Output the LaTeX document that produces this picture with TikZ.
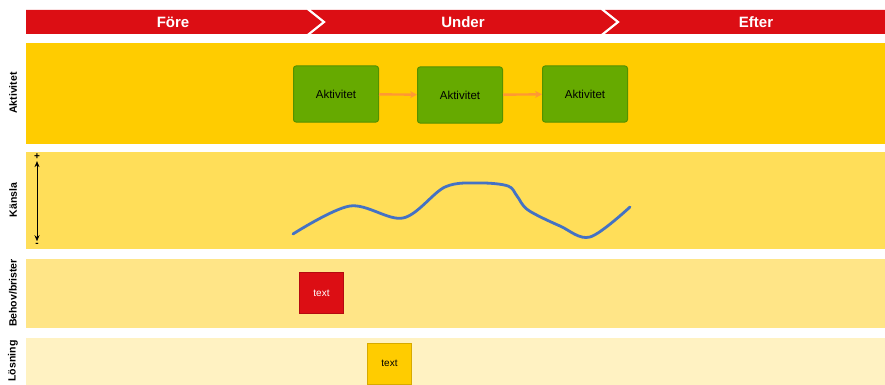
\documentclass[tikz,border=0pt]{standalone}
\usepackage{fontspec}
\setmainfont{Liberation Sans}
\usetikzlibrary{arrows.meta}

\definecolor{rod}{RGB}{220,14,20}
\definecolor{rodmork}{RGB}{180,10,15}
\definecolor{gul}{RGB}{255,204,0}
\definecolor{gulmork}{RGB}{215,170,0}
\definecolor{gul2}{RGB}{255,222,89}
\definecolor{gul3}{RGB}{255,229,135}
\definecolor{gul4}{RGB}{255,242,194}
\definecolor{gron}{RGB}{102,170,0}
\definecolor{gronmork}{RGB}{84,145,0}
\definecolor{orange}{RGB}{255,153,51}
\definecolor{bla}{RGB}{68,114,196}

\begin{document}
\begin{tikzpicture}[x=1pt,y=-1pt,
    fas/.style={text=white, font=\fontsize{15}{18}\selectfont\bfseries},
    rad/.style={rotate=90, font=\fontsize{10.5}{12}\selectfont\bfseries},
    aktbox/.style={draw=gronmork, fill=gron, line width=1pt, rounded corners=2.5pt,
        minimum width=85pt, minimum height=56pt, inner sep=0pt,
        font=\fontsize{11.5}{13}\selectfont},
    pil/.style={draw=orange, line width=2.4pt, -{Stealth[length=7pt,width=7pt]}},
    lapp/.style={line width=0.8pt, minimum width=44pt, minimum height=41pt, inner sep=0pt,
        font=\fontsize{10}{12}\selectfont}]
    \useasboundingbox (0,0) rectangle (885,385);

    % Rubrikpilar
    \fill[rod] (26,10) -- (307,10) -- (322,22) -- (307,34) -- (26,34) -- cycle;
    \fill[rod] (311,10) -- (601,10) -- (616,22) -- (601,34) -- (311,34) -- (326,22) -- cycle;
    \fill[rod] (605,10) -- (885,10) -- (885,34) -- (605,34) -- (620,22) -- cycle;
    \node[fas] (fore) at (173,22) {Före};
    \node[fas] (under) at (463,22) {Under};
    \node[fas] (efter) at (756,22) {Efter};

    % Rader
    \fill[gul] (26,43) rectangle (885,144);
    \fill[gul2] (26,152) rectangle (885,249);
    \fill[gul3] (26,259) rectangle (885,328);
    \fill[gul4] (26,338) rectangle (885,385);
    \node[rad] (aktivitet) at (13,93) {Aktivitet};
    \node[rad] (kansla) at (13,200) {Känsla};
    \node[rad] (behov) at (13,293) {Behov/brister};
    \node[rad] (losning) at (13,361) {Lösning};

    % Aktiviteter
    \node[aktbox] (akt1) at (336,94) {Aktivitet};
    \node[aktbox] (akt2) at (460,95) {Aktivitet};
    \node[aktbox] (akt3) at (585,94) {Aktivitet};
    \draw[pil] (akt1) -- (akt2);
    \draw[pil] (akt2) -- (akt3);

    % Skala for kansla
    \node[font=\fontsize{10}{11}\selectfont\bfseries, inner sep=0pt] (plus) at (37,157) {+};
    \node[font=\fontsize{10}{11}\selectfont\bfseries, inner sep=0pt] (minus) at (37,245) {-};
    \draw[black, line width=0.9pt, shorten <=1pt, shorten >=2pt,
        {Stealth[length=6pt,width=5pt]}-{Stealth[length=6pt,width=5pt]}]
        (plus.south) -- (minus.north);

    % Kurva
    \draw[bla, line width=2.8pt, line cap=round] plot[smooth, tension=0.55] coordinates
        {(293,234) (350,206) (403,218) (445,187) (480,183) (508,186) (517,196)
         (528,210) (560,226) (590,237) (630,207)};

    % Lappar
    \node[lapp, draw=rodmork, fill=rod, text=white] (brist) at (321.5,293) {text};
    \node[lapp, draw=gulmork, fill=gul] (losn) at (389.5,363.5) {text};
\end{tikzpicture}
\end{document}
